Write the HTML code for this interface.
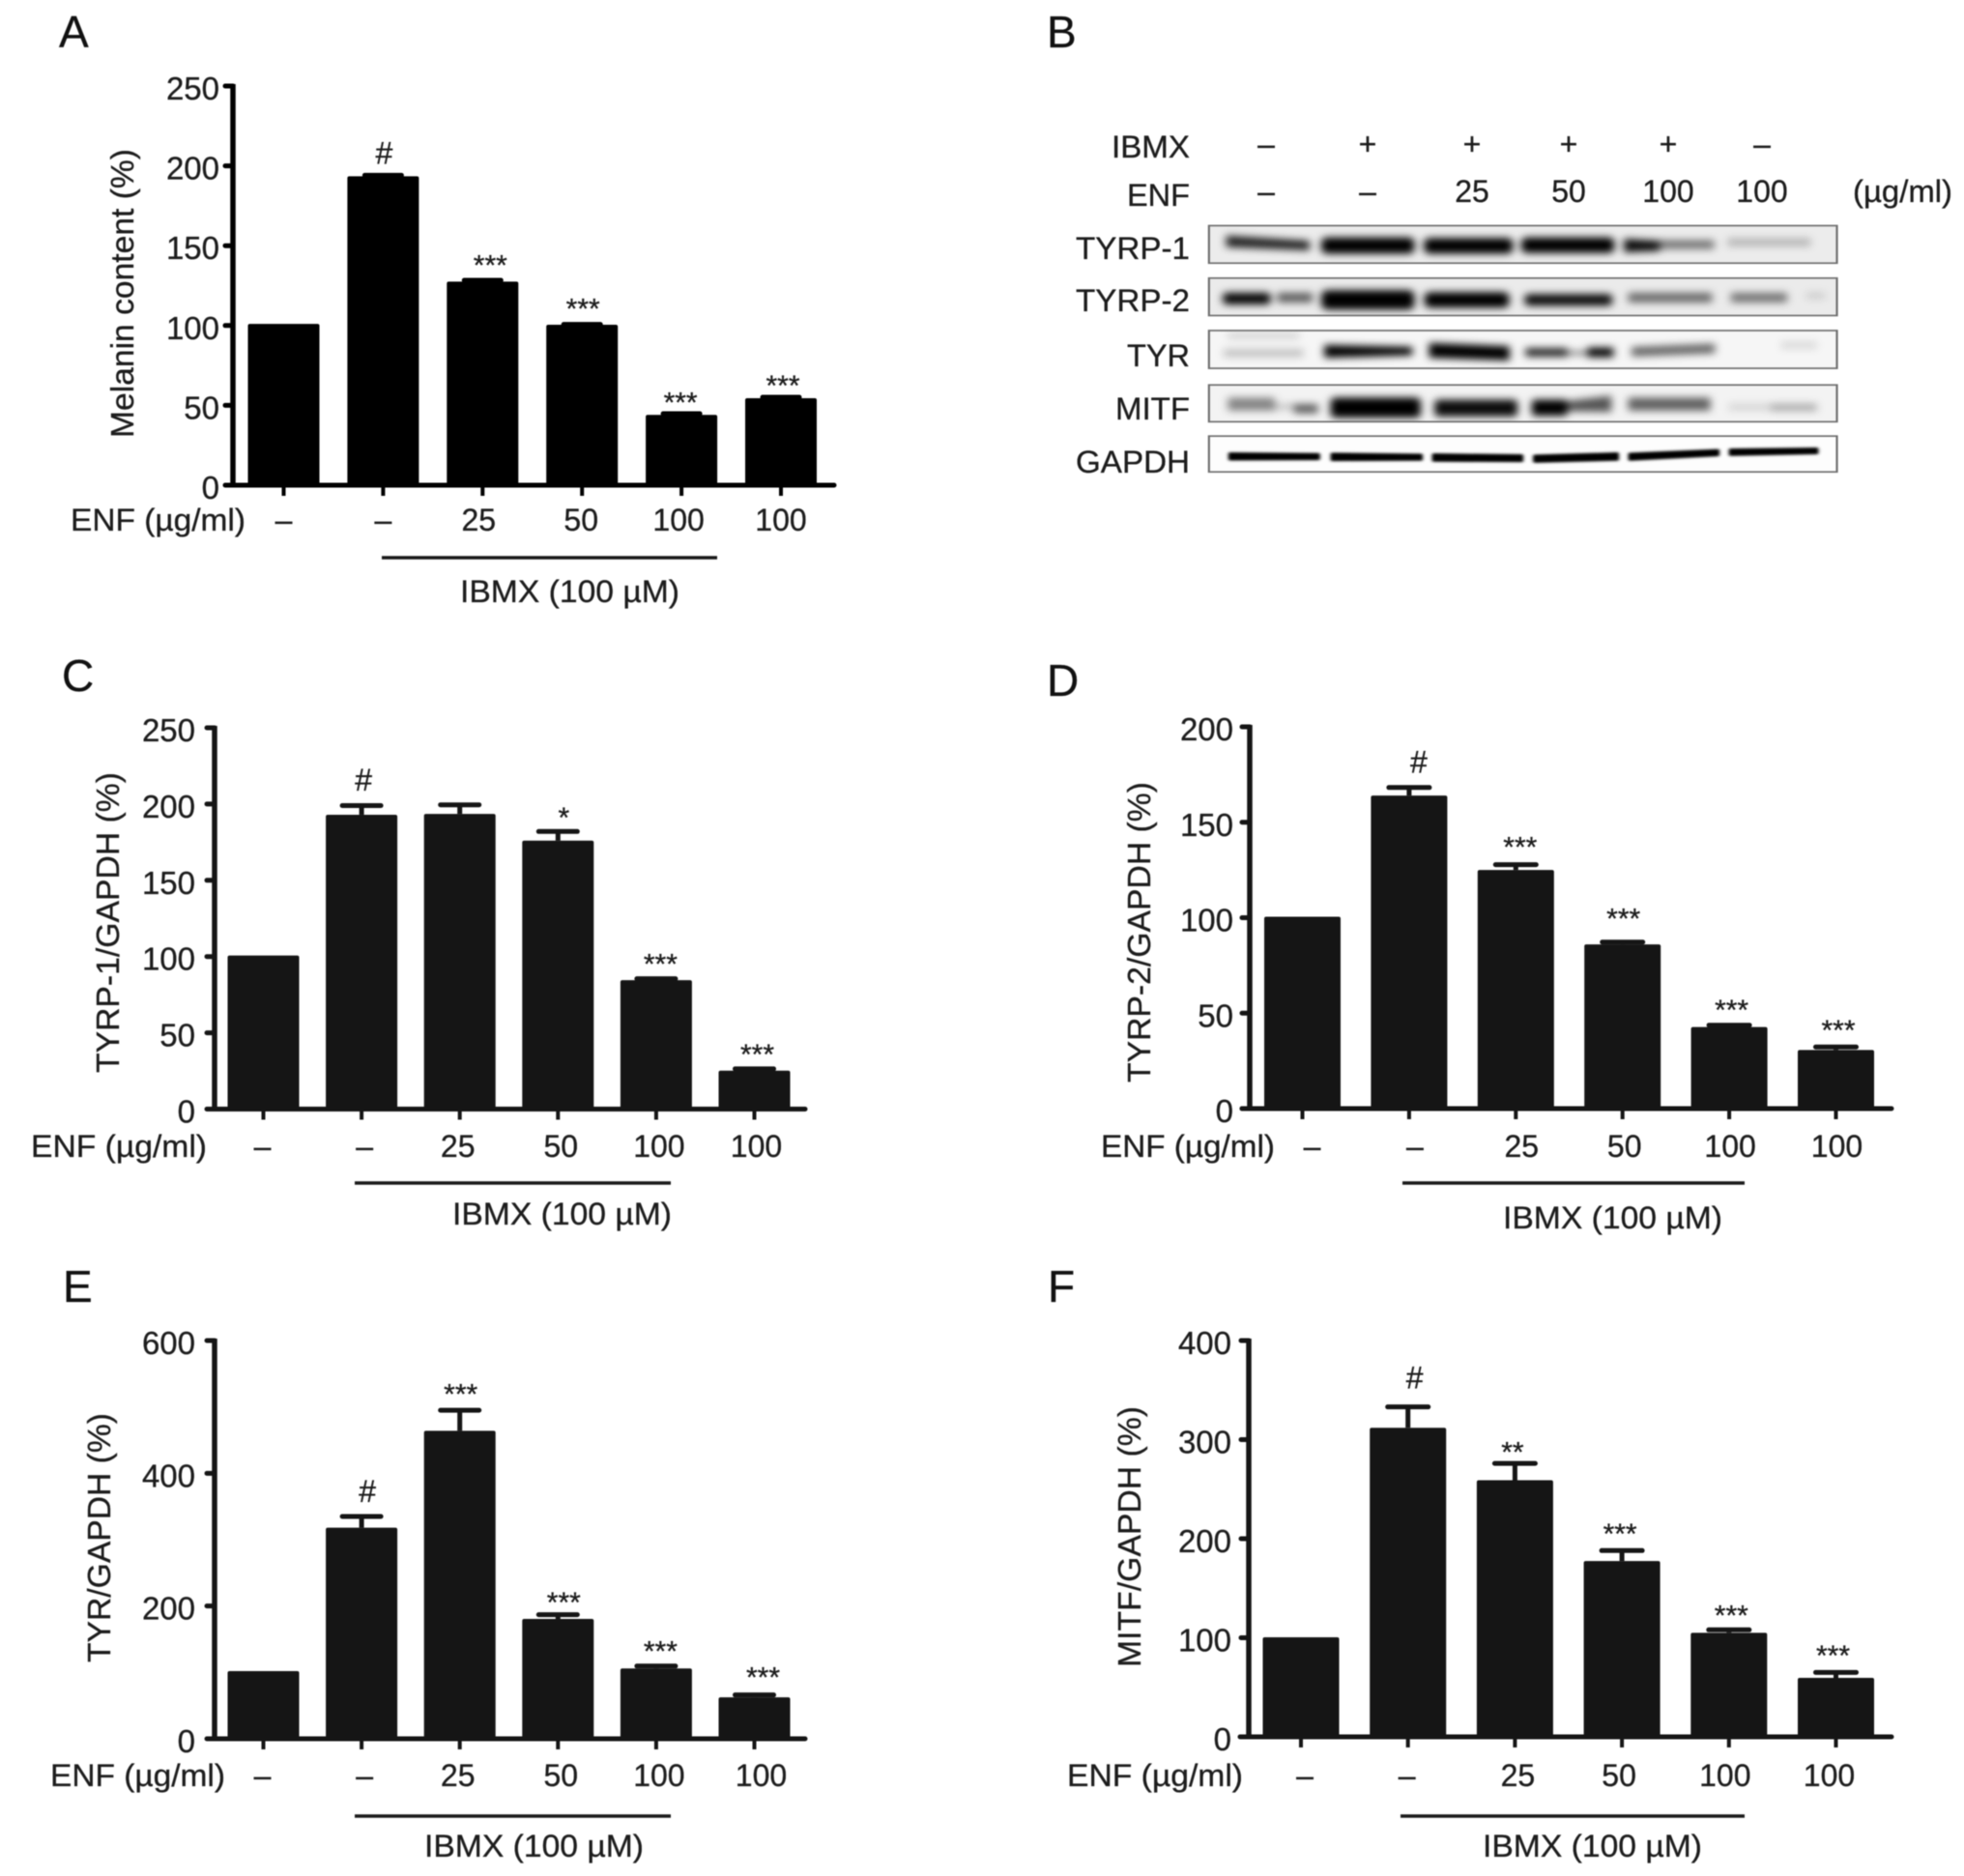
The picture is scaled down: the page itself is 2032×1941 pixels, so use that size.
<!DOCTYPE html>
<html lang="en">
<head>
<meta charset="utf-8">
<title>Melanin content and melanogenic protein expression</title>
<style>
html,body{margin:0;padding:0;background:#fff;width:2032px;height:1941px;overflow:hidden}
svg{display:block;filter:blur(.5px)}
text{font-family:"Liberation Sans",Arial,sans-serif;fill:#1c1c1c;stroke:#1c1c1c;stroke-width:.3px}
.letter{font-size:46px;fill:#111}
.b-label{font-size:32px}
</style>
</head>
<body>
<svg id="figure" xmlns="http://www.w3.org/2000/svg" width="2032" height="1941" viewBox="0 0 2032 1941">
<defs>
<filter id="band-blur" filterUnits="userSpaceOnUse" x="0" y="0" width="1600" height="900"><feGaussianBlur stdDeviation="10 12"/></filter>
<clipPath id="clip-r1"><rect x="25" y="40" width="1498" height="115"/></clipPath>
<clipPath id="clip-r2"><rect x="25" y="201" width="1498" height="115"/></clipPath>
<clipPath id="clip-r3"><rect x="25" y="362" width="1498" height="116"/></clipPath>
<clipPath id="clip-r4"><rect x="25" y="529" width="1498" height="113"/></clipPath>
<clipPath id="clip-r5"><rect x="25" y="686" width="1498" height="110"/></clipPath>
</defs>
<rect width="2032" height="1941" fill="#fff"/>

<text class="letter" x="61" y="49">A</text>
<text class="letter" x="1083" y="49">B</text>
<text class="letter" x="64" y="715">C</text>
<text class="letter" x="1083" y="720">D</text>
<text class="letter" x="65" y="1347">E</text>
<text class="letter" x="1084" y="1347">F</text>

<g id="panel-b">
  <g class="b-label">
    <text x="1231" y="163" text-anchor="end" textLength="81" lengthAdjust="spacingAndGlyphs">IBMX</text>
    <text x="1231" y="213" text-anchor="end" textLength="65" lengthAdjust="spacingAndGlyphs">ENF</text>
    <text x="1310" y="160" text-anchor="middle">–</text>
    <text x="1415" y="160" text-anchor="middle">+</text>
    <text x="1523" y="160" text-anchor="middle">+</text>
    <text x="1623" y="160" text-anchor="middle">+</text>
    <text x="1726" y="160" text-anchor="middle">+</text>
    <text x="1823" y="160" text-anchor="middle">–</text>
    <text x="1310" y="209" text-anchor="middle">–</text>
    <text x="1415" y="209" text-anchor="middle">–</text>
    <text x="1523" y="209" text-anchor="middle">25</text>
    <text x="1623" y="209" text-anchor="middle">50</text>
    <text x="1726" y="209" text-anchor="middle">100</text>
    <text x="1823" y="209" text-anchor="middle">100</text>
    <text x="1917" y="209" textLength="103" lengthAdjust="spacingAndGlyphs">(µg/ml)</text>
    <text x="1231" y="268" text-anchor="end" textLength="118" lengthAdjust="spacingAndGlyphs">TYRP-1</text>
    <text x="1231" y="322" text-anchor="end" textLength="118" lengthAdjust="spacingAndGlyphs">TYRP-2</text>
    <text x="1231" y="379" text-anchor="end" textLength="65" lengthAdjust="spacingAndGlyphs">TYR</text>
    <text x="1231" y="434" text-anchor="end" textLength="77" lengthAdjust="spacingAndGlyphs">MITF</text>
    <text x="1231" y="489" text-anchor="end" textLength="118" lengthAdjust="spacingAndGlyphs">GAPDH</text>
  </g>
  <g transform="translate(1240 220) scale(.4337 .337)">
    <g>
      <rect x="25" y="40" width="1498" height="115" fill="#ececec"/>
      <g clip-path="url(#clip-r1)"><g filter="url(#band-blur)" fill="#000">
        <polygon points="66,70 265,86 265,116 66,106" opacity=".85"/>
        <rect x="293" y="76" width="222" height="50" rx="14"/>
        <rect x="538" y="78" width="212" height="48" rx="14"/>
        <rect x="770" y="76" width="222" height="48" rx="14"/>
        <polygon points="1015,80 1100,86 1100,118 1015,122" opacity=".95"/>
        <rect x="1100" y="84" width="130" height="28" opacity=".5"/>
        <rect x="1262" y="78" width="198" height="26" opacity=".22"/>
      </g></g>
      <rect x="25" y="40" width="1498" height="115" fill="none" stroke="#6f6f6f" stroke-width="5"/>
    </g>
    <g>
      <rect x="25" y="201" width="1498" height="115" fill="#ebebeb"/>
      <g clip-path="url(#clip-r2)"><g filter="url(#band-blur)" fill="#000">
        <rect x="58" y="246" width="114" height="36" rx="10" opacity=".98"/>
        <rect x="188" y="246" width="84" height="30" opacity=".6"/>
        <rect x="293" y="238" width="222" height="60" rx="16"/>
        <rect x="539" y="244" width="202" height="48" rx="14"/>
        <rect x="778" y="250" width="209" height="36" rx="10" opacity=".95"/>
        <rect x="1025" y="246" width="200" height="30" opacity=".55"/>
        <rect x="1270" y="246" width="134" height="30" opacity=".5"/>
        <rect x="1450" y="244" width="45" height="22" opacity=".12"/>
      </g></g>
      <rect x="25" y="201" width="1498" height="115" fill="none" stroke="#6f6f6f" stroke-width="5"/>
    </g>
    <g>
      <rect x="25" y="362" width="1498" height="116" fill="#f6f6f6"/>
      <g clip-path="url(#clip-r3)"><g filter="url(#band-blur)" fill="#000">
        <rect x="60" y="418" width="190" height="26" opacity=".2"/>
        <rect x="70" y="368" width="170" height="20" opacity=".14"/>
        <polygon points="300,406 510,412 510,438 300,446"/>
        <polygon points="550,400 742,410 742,454 550,446"/>
        <rect x="780" y="416" width="100" height="26" opacity=".85"/>
        <rect x="880" y="424" width="50" height="14" opacity=".45"/>
        <rect x="928" y="414" width="62" height="30" opacity=".98"/>
        <polygon points="1033,412 1232,402 1232,432 1033,442" opacity=".58"/>
        <rect x="1390" y="396" width="85" height="22" opacity=".12"/>
      </g></g>
      <rect x="25" y="362" width="1498" height="116" fill="none" stroke="#6f6f6f" stroke-width="5"/>
    </g>
    <g>
      <rect x="25" y="529" width="1498" height="113" fill="#f3f3f3"/>
      <g clip-path="url(#clip-r4)"><g filter="url(#band-blur)" fill="#000">
        <rect x="70" y="568" width="112" height="40" opacity=".45"/>
        <rect x="228" y="588" width="57" height="28" opacity=".62"/>
        <rect x="180" y="586" width="50" height="20" opacity=".18"/>
        <rect x="315" y="568" width="215" height="62" rx="12"/>
        <rect x="563" y="574" width="198" height="52" rx="10" opacity=".95"/>
        <rect x="795" y="574" width="85" height="50" rx="8"/>
        <polygon points="880,578 985,562 985,612 880,610" opacity=".65"/>
        <rect x="1025" y="568" width="196" height="40" opacity=".6"/>
        <rect x="1265" y="586" width="100" height="22" opacity=".12"/>
        <rect x="1365" y="586" width="110" height="24" opacity=".28"/>
      </g></g>
      <rect x="25" y="529" width="1498" height="113" fill="none" stroke="#6f6f6f" stroke-width="5"/>
    </g>
    <g>
      <rect x="25" y="686" width="1498" height="110" fill="#fdfdfd"/>
      <g clip-path="url(#clip-r5)">
        <g fill="#000" stroke="#000" stroke-linejoin="round" stroke-width="10" style="filter:blur(4px)">
        <polygon points="76,741 285,743 285,755 76,756"/>
        <polygon points="320,742 530,745 530,757 320,758"/>
        <polygon points="562,744 770,747 770,761 562,760"/>
        <polygon points="803,748 998,741 998,757 803,763"/>
        <polygon points="1030,742 1238,731 1238,743 1030,757"/>
        <polygon points="1270,729 1474,726 1474,737 1270,742"/>
      </g></g>
      <rect x="25" y="686" width="1498" height="110" fill="none" stroke="#6f6f6f" stroke-width="5"/>
    </g>
  </g>
</g>
</svg>

<script>
// ---- Chart data ----
const enfCategories = ['–', '–', '25', '50', '100', '100'];

const melaninTicks = [0, 50, 100, 150, 200, 250];
const melaninValues = [101, 193.5, 127.5, 100.5, 44, 54.5];
const melaninErrors = [0, 0.6, 0.8, 0.2, 0.8, 0.6];
const melaninSig = ['', '#', '***', '***', '***', '***'];

const tyrp1Ticks = [0, 50, 100, 150, 200, 250];
const tyrp1Values = [100.7, 193, 193.5, 176, 84.5, 25.2];
const tyrp1Errors = [0, 6, 6, 6, 1, 1.2];
const tyrp1Sig = ['', '#', '', '*', '***', '***'];

const tyrp2Ticks = [0, 50, 100, 150, 200];
const tyrp2Values = [100.5, 164, 125, 86, 42.7, 30.7];
const tyrp2Errors = [0, 4.2, 2.8, 1.2, 1, 1.6];
const tyrp2Sig = ['', '#', '***', '***', '***', '***'];

const tyrTicks = [0, 200, 400, 600];
const tyrValues = [102, 318, 464, 180.5, 106, 62.5];
const tyrErrors = [0, 17, 31, 6.5, 3.5, 3.5];
const tyrSig = ['', '#', '***', '***', '***', '***'];

const mitfTicks = [0, 100, 200, 300, 400];
const mitfValues = [100.5, 312, 259, 177.5, 105, 59.5];
const mitfErrors = [0, 21, 17, 10.5, 3, 5.5];
const mitfSig = ['', '#', '**', '***', '***', '***'];

// ---- Layout (pixel geometry, separate from data) ----
const panels = [
  {id:'a', title:'Melanin content (%)', ticks:melaninTicks, values:melaninValues, errors:melaninErrors, sig:melaninSig,
   layout:{axisX:241, top:89, zero:502, first:293.5, step:102.9, barW:74, xStart:235, xEnd:863, color:'#000', tickRight:227,
     titleX:126, titleY0:154, titleY1:453, catY:549, catNudge:[0,0,-4,-1,-3,0], sigNudge:[0,1,8,1,-1,2], sigGap:[0,21,18,18.5,14,14.5],
     enf:[73,254], lineY:577, line:[395,742], ibmx:[476,703], ibmxY:623, capW:38}},
  {id:'c', title:'TYRP-1/GAPDH (%)', ticks:tyrp1Ticks, values:tyrp1Values, errors:tyrp1Errors, sig:tyrp1Sig,
   layout:{axisX:222, top:753, zero:1147.5, first:272.5, step:101.6, barW:74, xStart:215, xEnd:833, color:'#151515', tickRight:202,
     titleX:111, titleY0:799, titleY1:1110, catY:1197, catNudge:[-1,3,-2,3,3,2], sigNudge:[0,2,0,6,4.5,3], sigGap:[0,24.5,0,16.6,17.4,17.4],
     enf:[32,214], lineY:1224, line:[367,694], ibmx:[468,695], ibmxY:1267, capW:40}},
  {id:'d', title:'TYRP-2/GAPDH (%)', ticks:tyrp2Ticks, values:tyrp2Values, errors:tyrp2Errors, sig:tyrp2Sig,
   layout:{axisX:1293, top:752, zero:1147, first:1347.5, step:110.4, barW:79, xStart:1285, xEnd:1957, color:'#151515', tickRight:1276,
     titleX:1178, titleY0:809, titleY1:1120, catY:1197, catNudge:[10,6,6,2,1,1], sigNudge:[0,10,4.5,1,2.5,2.5], sigGap:[0,24.5,20.8,27,18,19.5],
     enf:[1139,1319], lineY:1224, line:[1451,1805], ibmx:[1555,1782], ibmxY:1271, capW:42}},
  {id:'e', title:'TYR/GAPDH (%)', ticks:tyrTicks, values:tyrValues, errors:tyrErrors, sig:tyrSig,
   layout:{axisX:222, top:1387, zero:1799, first:272.5, step:101.6, barW:74, xStart:215, xEnd:833, color:'#151515', tickRight:202,
     titleX:102, titleY0:1462, titleY1:1720, catY:1848, catNudge:[-1,3,-2,3,3,7], sigNudge:[0,6,1,6,4.5,9], sigGap:[0,24,19,15,18,20.7],
     enf:[52,233], lineY:1879, line:[367,694], ibmx:[439,666], ibmxY:1921, capW:40}},
  {id:'f', title:'MITF/GAPDH (%)', ticks:mitfTicks, values:mitfValues, errors:mitfErrors, sig:mitfSig,
   layout:{axisX:1292, top:1387, zero:1797, first:1346, step:110.7, barW:79, xStart:1283, xEnd:1957, color:'#151515', tickRight:1274,
     titleX:1168, titleY0:1455, titleY1:1725, catY:1848, catNudge:[4,-1,3,-3,-4,-7], sigNudge:[0,7,-2.5,-2,2.5,-3], sigGap:[0,28,14,20,17.5,20],
     enf:[1104,1286], lineY:1879, line:[1449,1805], ibmx:[1534,1761], ibmxY:1921, capW:42}}
];

const NS = 'http://www.w3.org/2000/svg';
const figure = document.getElementById('figure');

function make(tag, attrs, parent, content) {
  const el = document.createElementNS(NS, tag);
  for (const k in attrs) el.setAttribute(k, attrs[k]);
  if (content !== undefined) el.textContent = content;
  parent.appendChild(el);
  return el;
}

panels.forEach(function (panel) {
  const L = panel.layout;
  const maxTick = panel.ticks[panel.ticks.length - 1];
  const yScale = function (v) { return L.zero - (v / maxTick) * (L.zero - L.top); };
  const xScale = function (i) { return L.first + i * L.step; };

  const g = make('g', {}, figure);
  
  

  // bars and error bars
  panel.values.forEach(function (value, i) {
    const cx = xScale(i);
    const err = panel.errors[i];
    if (err > 0) {
      const stem = make('line', {x1:cx, x2:cx, y1:yScale(value), y2:yScale(value + err), stroke:L.color, 'stroke-width':5}, g);
      
      
      const cap = make('line', {x1:cx - L.capW / 2, x2:cx + L.capW / 2, y1:yScale(value + err), y2:yScale(value + err), stroke:L.color, 'stroke-width':5, 'stroke-linecap':'round'}, g);
      
      
    }
    const bar = make('rect', {x:cx - L.barW / 2, y:yScale(value), width:L.barW, height:L.zero - yScale(value), rx:2, fill:L.color}, g);
    
    

    const tick = make('line', {x1:cx, x2:cx, y1:L.zero, y2:L.zero + 11, stroke:L.color, 'stroke-width':4}, g);
    
    

    const cat = make('text', {x:cx + L.catNudge[i], y:L.catY, 'text-anchor':'middle', 'font-size':32}, g, enfCategories[i]);
    
    

    const mark = panel.sig[i];
    if (mark) {
      const centreY = yScale(value + err) - L.sigGap[i];
      const isHash = mark === '#';
      const sig = make('text', {x:cx + L.sigNudge[i], y:centreY + (isHash ? 9 : 12.5), 'text-anchor':'middle', 'font-size':isHash ? 32 : 30}, g, mark);
      
      
    }
  });

  // axes
  const yAxis = make('line', {x1:L.axisX, x2:L.axisX, y1:L.top - 2, y2:L.zero + 2, stroke:L.color, 'stroke-width':5.5}, g);
  
  
  const xAxis = make('line', {x1:L.xStart, x2:L.xEnd, y1:L.zero, y2:L.zero, stroke:L.color, 'stroke-width':5, 'stroke-linecap':'round'}, g);
  
  

  panel.ticks.forEach(function (t) {
    const tk = make('line', {x1:L.axisX - 8, x2:L.axisX, y1:yScale(t), y2:yScale(t), stroke:L.color, 'stroke-width':5, 'stroke-linecap':'round'}, g);
    
    
    const lb = make('text', {x:L.tickRight, y:yScale(t) + 14, 'text-anchor':'end', 'font-size':33}, g, String(t));
    
    
  });

  // y title
  const tY = (L.titleY0 + L.titleY1) / 2;
  const title = make('text', {x:0, y:0, transform:'translate(' + (L.titleX + 12) + ' ' + tY + ') rotate(-90)', 'text-anchor':'middle', 'font-size':33, textLength:L.titleY1 - L.titleY0, lengthAdjust:'spacingAndGlyphs'}, g, panel.title);
  
  

  // ENF row label
  const enf = make('text', {x:L.enf[0], y:L.catY, 'font-size':32, textLength:L.enf[1] - L.enf[0], lengthAdjust:'spacingAndGlyphs'}, g, 'ENF (µg/ml)');
  
  

  // IBMX bracket
  const bracket = make('line', {x1:L.line[0], x2:L.line[1], y1:L.lineY, y2:L.lineY, stroke:'#1a1a1a', 'stroke-width':3.5}, g);
  
  
  const ibmx = make('text', {x:L.ibmx[0], y:L.ibmxY, 'font-size':32, textLength:L.ibmx[1] - L.ibmx[0], lengthAdjust:'spacingAndGlyphs'}, g, 'IBMX (100 µM)');
  
  
});
</script>
</body>
</html>
